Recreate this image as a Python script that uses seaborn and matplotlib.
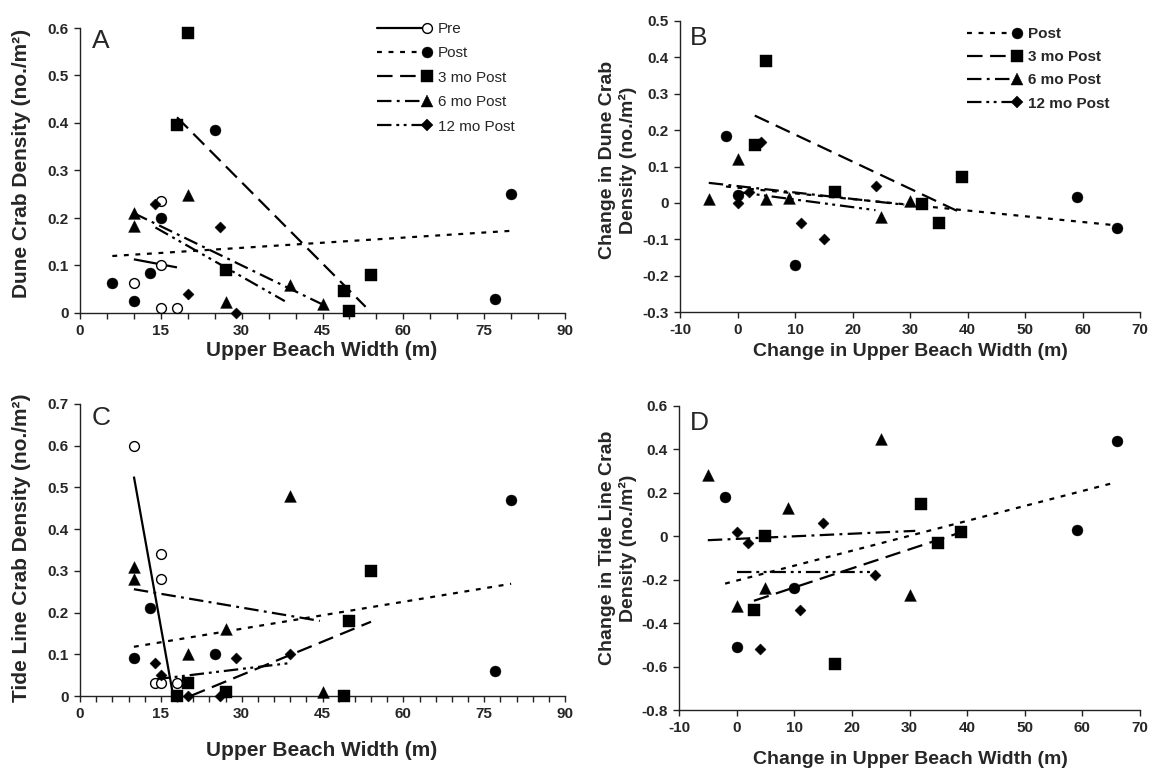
import numpy as np
import pandas as pd
import matplotlib
matplotlib.use("Agg")
import matplotlib.pyplot as plt
from matplotlib.lines import Line2D
from matplotlib.legend_handler import HandlerLine2D
from matplotlib.ticker import MultipleLocator, FuncFormatter
import seaborn as sns

# ---------------- data ----------------
# Panel A: dune crab density vs upper beach width
pre_A_x = [10, 15, 15, 15, 18]
pre_A_y = [0.063, 0.236, 0.10, 0.01, 0.01]
post_A_x = [6, 10, 13, 15, 25, 77, 80]
post_A_y = [0.063, 0.025, 0.085, 0.20, 0.385, 0.03, 0.25]
m3_A_x = [18, 20, 27, 49, 50, 54]
m3_A_y = [0.395, 0.59, 0.09, 0.046, 0.005, 0.08]
m6_A_x = [10, 10, 20, 27, 39, 45]
m6_A_y = [0.21, 0.184, 0.248, 0.024, 0.058, 0.018]
m12_A_x = [14, 20, 26, 29]
m12_A_y = [0.23, 0.04, 0.18, 0.0]
# fitted trend lines (x range, fitted y at the ends)
fit_A = {
    "Pre": ([10, 18], [0.113, 0.096]),
    "Post": ([6, 80], [0.12, 0.173]),
    "3 mo Post": ([18, 53], [0.412, 0.013]),
    "6 mo Post": ([10, 45], [0.21, 0.018]),
    "12 mo Post": ([14, 38], [0.18, 0.025]),
}

# Panel B: change in dune crab density vs change in upper beach width
post_B_x = [-2, 0, 10, 59, 66]
post_B_y = [0.185, 0.022, -0.172, 0.016, -0.07]
m3_B_x = [3, 5, 17, 32, 35, 39]
m3_B_y = [0.16, 0.39, 0.029, -0.003, -0.054, 0.07]
m6_B_x = [-5, 0, 5, 9, 25, 30]
m6_B_y = [0.01, 0.12, 0.012, 0.013, -0.04, 0.006]
m12_B_x = [0, 2, 4, 11, 15, 24]
m12_B_y = [0.0, 0.031, 0.168, -0.054, -0.1, 0.046]
fit_B = {
    "Post": ([-2, 66], [0.045, -0.062]),
    "3 mo Post": ([3, 39], [0.24, -0.028]),
    "6 mo Post": ([-5, 29], [0.055, -0.005]),
    "12 mo Post": ([0, 24], [0.03, -0.02]),
}

# Panel C: tide line crab density vs upper beach width
pre_C_x = [10, 15, 15, 14, 15, 18]
pre_C_y = [0.60, 0.34, 0.28, 0.03, 0.03, 0.03]
post_C_x = [10, 13, 25, 77, 80]
post_C_y = [0.09, 0.21, 0.10, 0.06, 0.47]
m3_C_x = [18, 20, 27, 49, 50, 54]
m3_C_y = [0.0, 0.03, 0.01, 0.0, 0.18, 0.30]
m6_C_x = [10, 10, 20, 27, 39, 45]
m6_C_y = [0.31, 0.28, 0.10, 0.16, 0.48, 0.01]
m12_C_x = [14, 15, 20, 26, 29, 39]
m12_C_y = [0.08, 0.05, 0.0, 0.0, 0.09, 0.10]
fit_C = {
    "Pre": ([10, 17.3], [0.526, 0.0]),
    "Post": ([10, 80], [0.118, 0.269]),
    "3 mo Post": ([20.5, 54], [0.0, 0.178]),
    "6 mo Post": ([10, 44.5], [0.256, 0.18]),
    "12 mo Post": ([14, 39], [0.04, 0.079]),
}

# Panel D: change in tide line crab density vs change in upper beach width
post_D_x = [-2, 0, 10, 59, 66]
post_D_y = [0.18, -0.51, -0.24, 0.03, 0.44]
m3_D_x = [3, 5, 17, 32, 35, 39]
m3_D_y = [-0.34, 0.0, -0.59, 0.15, -0.03, 0.02]
m6_D_x = [-5, 0, 5, 9, 25, 30]
m6_D_y = [0.28, -0.32, -0.24, 0.13, 0.45, -0.27]
m12_D_x = [0, 2, 4, 11, 15, 24]
m12_D_y = [0.02, -0.03, -0.52, -0.34, 0.06, -0.18]
fit_D = {
    "Post": ([-2, 65], [-0.218, 0.243]),
    "3 mo Post": ([3, 38], [-0.297, 0.01]),
    "6 mo Post": ([-5, 31], [-0.018, 0.025]),
    "12 mo Post": ([0, 24], [-0.165, -0.165]),
}

# ---------------- styles ----------------
sns.set_theme(style="ticks")
plt.rcParams["font.family"] = ["Liberation Sans", "DejaVu Sans"]
plt.rcParams["axes.linewidth"] = 1.0

LW = 1.6
STYLE = {
    "Pre": dict(marker="o", s=50, fc="white", ls="-"),
    "Post": dict(marker="o", s=62, fc="black", ls=(0, (2.2, 3.0))),
    "3 mo Post": dict(marker="s", s=68, fc="black", ls=(0, (7, 3.4))),
    "6 mo Post": dict(marker="^", s=72, fc="black", ls=(0, (6.5, 2.4, 1.3, 2.4))),
    "12 mo Post": dict(marker="D", s=32, fc="black", ls=(0, (6.5, 2.2, 1.3, 2.0, 1.3, 2.2))),
}

W, H = 1154, 775
fig = plt.figure(figsize=(W / 100, H / 100), dpi=100)


def px_axes(l, t, r, b):
    return fig.add_axes([l / W, 1 - b / H, (r - l) / W, (b - t) / H])


def fmt(v, pos):
    return "0" if abs(v) < 1e-9 else f"{v:g}"


def draw_panel(ax, series, fits):
    for name, (xs, ys) in series.items():
        st = STYLE[name]
        df = pd.DataFrame({"x": xs, "y": ys})
        sns.scatterplot(data=df, x="x", y="y", ax=ax, marker=st["marker"], s=st["s"],
                        color=st["fc"], edgecolor="black",
                        linewidth=1.0 if st["fc"] == "white" else 0.3,
                        clip_on=False, zorder=3, legend=False)
    for name, (fx, fy) in fits.items():
        ax.plot(fx, fy, color="black", lw=LW, ls=STYLE[name]["ls"], zorder=2,
                solid_capstyle="butt", dash_capstyle="butt")


def style_axes(ax, xlim, xmaj, xmin, ylim, ymaj):
    ax.set_xlim(*xlim)
    ax.set_ylim(*ylim)
    ax.xaxis.set_major_locator(MultipleLocator(xmaj))
    if xmin:
        ax.xaxis.set_minor_locator(MultipleLocator(xmin))
    ax.yaxis.set_major_locator(MultipleLocator(ymaj))
    ax.xaxis.set_major_formatter(FuncFormatter(fmt))
    ax.yaxis.set_major_formatter(FuncFormatter(fmt))
    sns.despine(ax=ax)
    for sp in ("left", "bottom"):
        ax.spines[sp].set_color("#222222")
    ax.tick_params(which="both", direction="out", length=4, width=1.0, color="#222222",
                   labelsize=11, pad=4)
    for lab in ax.get_xticklabels() + ax.get_yticklabels():
        lab.set_fontweight("bold")
    ax.set_xlabel("")
    ax.set_ylabel("")


class EndMarkerHandler(HandlerLine2D):
    def create_artists(self, legend, orig_handle, xdescent, ydescent, width, height,
                       fontsize, trans):
        arts = super().create_artists(legend, orig_handle, xdescent, ydescent, width,
                                      height, fontsize, trans)
        for a in arts:
            a.set_markevery([len(a.get_xdata()) - 1])
        return arts


def legend_handles(names):
    hs = []
    for n in names:
        st = STYLE[n]
        ms = np.sqrt(st["s"])
        hs.append(Line2D([], [], color="black", lw=LW, ls=st["ls"], marker=st["marker"],
                         markersize=ms, markerfacecolor=st["fc"], markeredgecolor="black",
                         markeredgewidth=1.0 if st["fc"] == "white" else 0.3, label=n))
    return hs


def add_legend(ax, names, x, y, bold, spacing):
    leg = ax.legend(handles=legend_handles(names), loc="upper left",
                    bbox_to_anchor=(x / W, 1 - y / H), bbox_transform=fig.transFigure,
                    frameon=False, borderpad=0, borderaxespad=0, handlelength=3.3,
                    handletextpad=0.7, labelspacing=spacing, numpoints=1,
                    prop=dict(size=11, weight="bold" if bold else "normal"),
                    handler_map={Line2D: EndMarkerHandler()})
    return leg


def panel_letter(x, y, s):
    fig.text(x / W, 1 - y / H, s, fontsize=19, ha="left", va="top")


LABEL_FS = 15
CHANGE_FS = 14

# ---------------- panel A ----------------
axA = px_axes(80, 28, 565, 313)
draw_panel(axA, {"Pre": (pre_A_x, pre_A_y), "Post": (post_A_x, post_A_y),
                 "3 mo Post": (m3_A_x, m3_A_y), "6 mo Post": (m6_A_x, m6_A_y),
                 "12 mo Post": (m12_A_x, m12_A_y)}, fit_A)
style_axes(axA, (0, 90), 15, 5, (0, 0.6), 0.1)
fig.text(322 / W, 1 - 351 / H, "Upper Beach Width (m)", fontsize=LABEL_FS,
         fontweight="bold", ha="center", va="center")
fig.text(22 / W, 1 - 163 / H, "Dune Crab Density (no./m²)", fontsize=LABEL_FS,
         fontweight="bold", rotation=90, ha="center", va="center")
add_legend(axA, ["Pre", "Post", "3 mo Post", "6 mo Post", "12 mo Post"], 377, 22, False, 0.68)
panel_letter(92, 29, "A")

# ---------------- panel B ----------------
axB = px_axes(680, 21, 1140, 312)
draw_panel(axB, {"Post": (post_B_x, post_B_y), "3 mo Post": (m3_B_x, m3_B_y),
                 "6 mo Post": (m6_B_x, m6_B_y), "12 mo Post": (m12_B_x, m12_B_y)}, fit_B)
style_axes(axB, (-10, 70), 10, None, (-0.3, 0.5), 0.1)
fig.text(910 / W, 1 - 351 / H, "Change in Upper Beach Width (m)", fontsize=CHANGE_FS,
         fontweight="bold", ha="center", va="center")
fig.text(618 / W, 1 - 160 / H, "Change in Dune Crab\nDensity (no./m²)", fontsize=CHANGE_FS,
         fontweight="bold", rotation=90, ha="center", va="center", linespacing=1.15)
add_legend(axB, ["Post", "3 mo Post", "6 mo Post", "12 mo Post"], 967, 27, True, 0.6)
panel_letter(690, 26, "B")

# ---------------- panel C ----------------
axC = px_axes(80, 404, 565, 696)
draw_panel(axC, {"Pre": (pre_C_x, pre_C_y), "Post": (post_C_x, post_C_y),
                 "3 mo Post": (m3_C_x, m3_C_y), "6 mo Post": (m6_C_x, m6_C_y),
                 "12 mo Post": (m12_C_x, m12_C_y)}, fit_C)
style_axes(axC, (0, 90), 15, 3, (0, 0.7), 0.1)
fig.text(322 / W, 1 - 751 / H, "Upper Beach Width (m)", fontsize=LABEL_FS,
         fontweight="bold", ha="center", va="center")
fig.text(22 / W, 1 - 548 / H, "Tide Line Crab Density (no./m²)", fontsize=LABEL_FS,
         fontweight="bold", rotation=90, ha="center", va="center")
panel_letter(92, 406, "C")

# ---------------- panel D ----------------
axD = px_axes(679, 406, 1140, 710)
draw_panel(axD, {"Post": (post_D_x, post_D_y), "3 mo Post": (m3_D_x, m3_D_y),
                 "6 mo Post": (m6_D_x, m6_D_y), "12 mo Post": (m12_D_x, m12_D_y)}, fit_D)
style_axes(axD, (-10, 70), 10, None, (-0.8, 0.6), 0.2)
fig.text(910 / W, 1 - 760 / H, "Change in Upper Beach Width (m)", fontsize=CHANGE_FS,
         fontweight="bold", ha="center", va="center")
fig.text(618 / W, 1 - 548 / H, "Change in Tide Line Crab\nDensity (no./m²)",
         fontsize=CHANGE_FS, fontweight="bold", rotation=90, ha="center", va="center",
         linespacing=1.15)
panel_letter(690, 411, "D")

fig.savefig("out.png", dpi=100, facecolor="white")
